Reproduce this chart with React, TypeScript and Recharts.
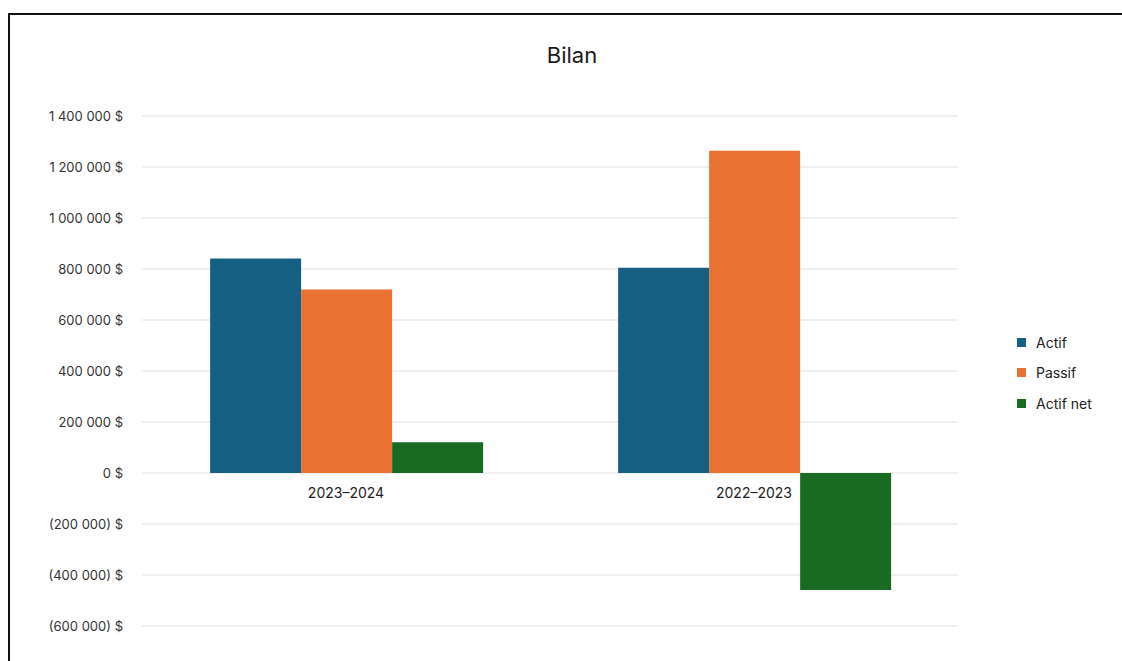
import { BarChart, Bar, XAxis, YAxis, CartesianGrid, Legend, ReferenceDot } from "recharts";

// Exercise years, most recent first (as in the source sheet)
const CATEGORIES = ["2023–2024", "2022–2023"];
const ACTIF = [841000, 805000];
const PASSIF = [720000, 1264000];
const ACTIF_NET = [121000, -459000];

const Y_TICKS = [-600000, -400000, -200000, 0, 200000, 400000, 600000, 800000, 1000000, 1200000, 1400000];

const SERIES = [
  { key: "actif", name: "Actif", color: "#156082" },
  { key: "passif", name: "Passif", color: "#E97132" },
  { key: "actifNet", name: "Actif net", color: "#196B24" },
];

const FONT = "Inter, 'Noto Sans', sans-serif";

// 1400000 -> "1 400 000 $", -200000 -> "(200 000) $"
const formatMoney = (v: number): string => {
  const s = Math.abs(v).toString().replace(/\B(?=(\d{3})+(?!\d))/g, "\u00A0");
  return v < 0 ? `(${s})\u00A0$` : `${s}\u00A0$`;
};

const data = CATEGORIES.map((cat, i) => ({
  cat,
  actif: ACTIF[i],
  passif: PASSIF[i],
  actifNet: ACTIF_NET[i],
}));

function LegendBox() {
  return (
    <div style={{ fontFamily: FONT }}>
      {SERIES.map(s => (
        <div key={s.key} style={{ display: "flex", alignItems: "center", height: 30.5 }}>
          <span style={{ width: 9, height: 9, background: s.color, marginRight: 10, flexShrink: 0 }} />
          <span style={{ fontSize: 14, color: "#222" }}>{s.name}</span>
        </div>
      ))}
    </div>
  );
}

export default function App() {
  return (
    <div
      style={{
        position: "absolute",
        left: 8,
        top: 13,
        width: 1114,
        height: 648,
        borderTop: "2px solid #111",
        borderLeft: "2px solid #111",
        boxSizing: "border-box",
        background: "#fff",
        overflow: "hidden",
        fontFamily: FONT,
      }}
    >
      <div
        style={{
          position: "absolute",
          left: 462,
          top: 29,
          width: 200,
          textAlign: "center",
          fontSize: 22,
          lineHeight: "22px",
          color: "#1a1a1a",
        }}
      >
        Bilan
      </div>

      <BarChart
        width={1112}
        height={646}
        data={data}
        margin={{ top: 101, right: 164, bottom: 35, left: 0 }}
        barCategoryGap="16.7%"
        barGap={0}
      >
        <CartesianGrid vertical={false} stroke="#ebebeb" strokeWidth={1.5} />
        <XAxis dataKey="cat" hide />
        <YAxis
          width={132}
          domain={[-600000, 1400000]}
          ticks={Y_TICKS}
          tickFormatter={formatMoney}
          axisLine={false}
          tickLine={false}
          tickMargin={13}
          tick={{ fill: "#333", fontSize: 13, fontFamily: FONT }}
          interval={0}
        />
        {/* centred + middle so it takes no room from the plot; placed by wrapperStyle */}
        <Legend
          layout="horizontal"
          verticalAlign="middle"
          align="center"
          content={<LegendBox />}
          wrapperStyle={{ left: 1007, top: 312, width: 100 }}
        />
        {SERIES.map(s => (
          <Bar key={s.key} dataKey={s.key} name={s.name} fill={s.color} isAnimationActive={false} />
        ))}
        {/* category labels sit under the zero line, not at the plot bottom */}
        {CATEGORIES.map(cat => (
          <ReferenceDot
            key={cat}
            x={cat}
            y={0}
            r={0}
            fill="none"
            stroke="none"
            label={{ value: cat, position: "bottom", offset: 15, fill: "#222", fontSize: 14, fontFamily: FONT }}
          />
        ))}
      </BarChart>
    </div>
  );
}
